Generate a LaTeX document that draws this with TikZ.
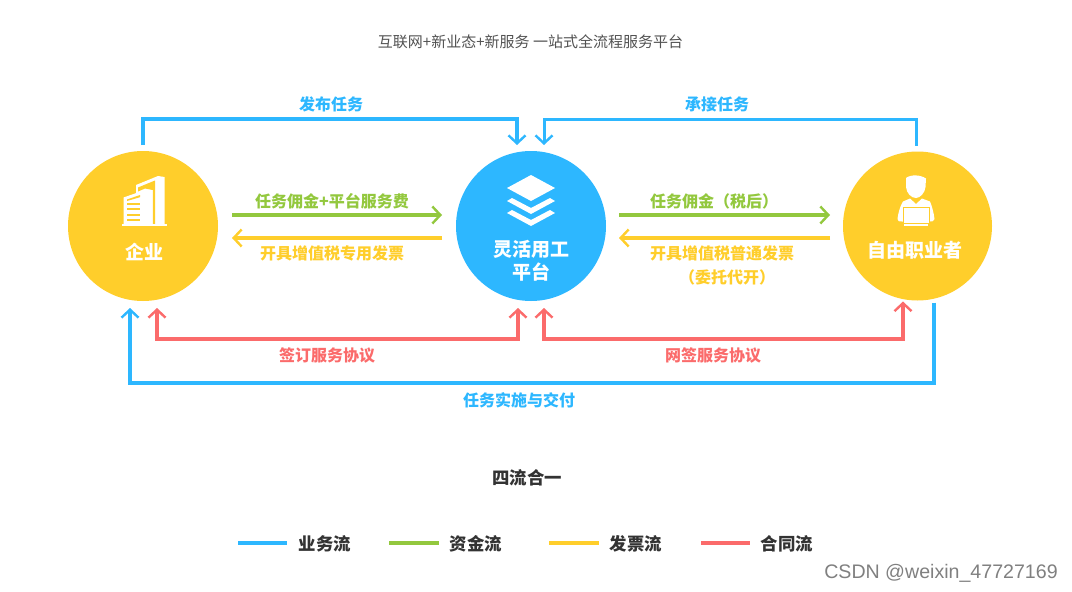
\documentclass[tikz,border=0pt]{standalone}
\usepackage{fontspec}
\setmainfont{Noto Sans CJK SC}
\newfontfamily\wmfont{Liberation Sans}
\usetikzlibrary{arrows.meta,calc}
\definecolor{cblue}{HTML}{2DB7FF}
\definecolor{cgreen}{HTML}{93C83E}
\definecolor{cyellow}{HTML}{FFCE2B}
\definecolor{cred}{HTML}{FB6B6B}
\definecolor{cdark}{HTML}{333333}
\tikzset{
  hub/.style={circle,minimum size=#1,inner sep=0pt,outer sep=0pt,draw=none},
  flow/.style={line width=#1,line join=miter},
  tipb/.style={-{Straight Barb[length=8pt,width=17pt,line width=2.4pt]}},
  tipbb/.style={{Straight Barb[length=8pt,width=17pt,line width=2.4pt]}-{Straight Barb[length=8pt,width=17pt,line width=2.4pt]}},
  lbl/.style={inner sep=0pt,font=\bfseries\fontsize{16}{19}\selectfont,text=#1},
  hubcap/.style={inner sep=0pt,font=\bfseries\fontsize{19}{23}\selectfont,text=white,align=center},
  legtext/.style={inner sep=0pt,font=\bfseries\fontsize{17.4}{20}\selectfont,text=cdark},
}
\begin{document}
\begin{tikzpicture}[x=1pt,y=-1pt]
\useasboundingbox[fill=white] (0,0) rectangle (1072,592);
% hubs
\node[hub=150pt,fill=cyellow] (qy) at (143,226) {};
\node[hub=150pt,fill=cblue] (pt) at (531,226) {};
\node[hub=149pt,fill=cyellow] (zy) at (917.5,226) {};
% building icon
\fill[white] (136,185) -- (158,176) -- (164.5,177) -- (164.5,224) -- (136,224) -- cycle;
\fill[cyellow] (138,187.5) -- (155,180.5) -- (155,224) -- (152.8,224) -- (152.8,190) -- (145,188.5) -- (138,191.5) -- cycle;
\fill[white] (123.5,197.5) -- (145,190) -- (152,192) -- (152,224) -- (123.5,224) -- cycle;
\fill[cyellow] (127,199.5) -- (140,195) -- (140,197.2) -- (127,201) -- cycle;
\foreach \yy in {202.5,208,213.5,219}{\fill[cyellow] (127,\yy) rectangle (140,\yy+2.2);}
\fill[white] (122,224) rectangle (167,226);
% layers icon
\fill[white] (531,175) -- (555,188) -- (531,201) -- (507,188) -- cycle;
\fill[white] (507,201) -- (512,198) -- (531,208) -- (550,198) -- (555,201) -- (531,214) -- cycle;
\fill[white] (507,213) -- (512,210) -- (531,220) -- (550,210) -- (555,213) -- (531,226) -- cycle;
% person icon
\fill[white] (906,178) .. controls (911,174) and (921,175) .. (926,178.5) -- (925.5,187) .. controls (925,193) and (920,198) .. (916,198) .. controls (911,198) and (906.5,193) .. (906,187) -- cycle;
\fill[white] (903,201.5) -- (910,198.5) -- (916,204) -- (922,198.5) -- (930,201.5) .. controls (932,206) and (934,214) .. (934.5,219) .. controls (934,221) and (932,222) .. (930,221.5) -- (902,221.5) .. controls (899,222) and (897.5,221) .. (897.5,219) .. controls (898,214) and (900,206) .. (903,201.5) -- cycle;
\fill[cyellow] (902.5,207) rectangle (929.5,223.5);
\fill[white] (903.5,207.8) rectangle (928.5,222.6);
\fill[white] (904,224.3) rectangle (928,225.6);
% captions
\node[hubcap] (t1) at (144,251.5) {企业};
\node[hubcap] (t2) at (531,260.5) {灵活用工\\平台};
\node[hubcap] (t3) at (915,250.5) {自由职业者};
% top flows
\draw[flow=4pt,cblue,tipb] ($(qy.north)+(0,-6)$) -- ++(0,-26) -| ($(pt.north)+(-14,-6)$);
\draw[flow=3pt,cblue,tipb] ($(zy.north)+(-1.5,-6)$) -- ++(0,-26) -| ($(pt.north)+(13,-6)$);
% middle flows
\draw[flow=4pt,cgreen,tipb] ($(qy.east)+(14,-11)$) -- ($(pt.west)+(-14,-11)$);
\draw[flow=4pt,cyellow,tipb] ($(pt.west)+(-14,12)$) -- ($(qy.east)+(14,12)$);
\draw[flow=4pt,cgreen,tipb] ($(pt.east)+(13,-11)$) -- ($(zy.west)+(-13,-11)$);
\draw[flow=4pt,cyellow,tipb] ($(zy.west)+(-13,12)$) -- ($(pt.east)+(13,12)$);
% bottom flows
\draw[flow=4pt,cred,tipbb] ($(qy.south)+(14,7)$) -- ++(0,31) -| ($(pt.south)+(-13,7)$);
\draw[flow=4pt,cred,tipbb] ($(pt.south)+(13,7)$) -- ++(0,31) -| ($(zy.south)+(-14.5,1)$);
\draw[flow=4pt,cblue,tipb] ($(zy.south)+(16.5,2)$) -- ++(0,80) -| ($(qy.south)+(-13,7)$);
% labels
\node[lbl=cblue] (l1) at (331,104.5) {发布任务};
\node[lbl=cblue] (l2) at (717,104.5) {承接任务};
\node[lbl=cgreen] (l3) at (332,201.5) {任务佣金+平台服务费};
\node[lbl=cyellow] (l4) at (332,253.5) {开具增值税专用发票};
\node[lbl=cgreen] (l5) at (714,201.5) {任务佣金（税后）};
\node[lbl=cyellow] (l6) at (722,253.5) {开具增值税普通发票};
\node[lbl=cyellow] (l7) at (727,277.5) {（委托代开）};
\node[lbl=cred] (l8) at (327,355.5) {签订服务协议};
\node[lbl=cred] (l9) at (713,355.5) {网签服务协议};
\node[lbl=cblue] (l10) at (519,400.5) {任务实施与交付};
% title
\node[inner sep=0pt,font=\fontsize{15}{18}\selectfont,text=cdark!85] (title) at (530.5,41.5) {互联网+新业态+新服务 一站式全流程服务平台};
\node[legtext] (four) at (527,477.5) {四流合一};
% legend
\coordinate (a1) at (238,543); \coordinate (a2) at (287,543);
\coordinate (b1) at (389,543); \coordinate (b2) at (439,543);
\coordinate (c1) at (549,543); \coordinate (c2) at (599,543);
\coordinate (d1) at (701,543); \coordinate (d2) at (750,543);
\draw[flow=4pt,cblue] (a1) -- (a2);
\draw[flow=4pt,cgreen] (b1) -- (b2);
\draw[flow=4pt,cyellow] (c1) -- (c2);
\draw[flow=4pt,cred] (d1) -- (d2);
\node[legtext] (n1) at (325,543.5) {业务流};
\node[legtext] (n2) at (476,543.5) {资金流};
\node[legtext] (n3) at (636,543.5) {发票流};
\node[legtext] (n4) at (787,543.5) {合同流};
% watermark
\node[inner sep=0pt,font=\wmfont\fontsize{19.6}{22}\selectfont,text=black!50] (wm) at (941,573) {CSDN @weixin\_47727169};
\end{tikzpicture}
\end{document}
